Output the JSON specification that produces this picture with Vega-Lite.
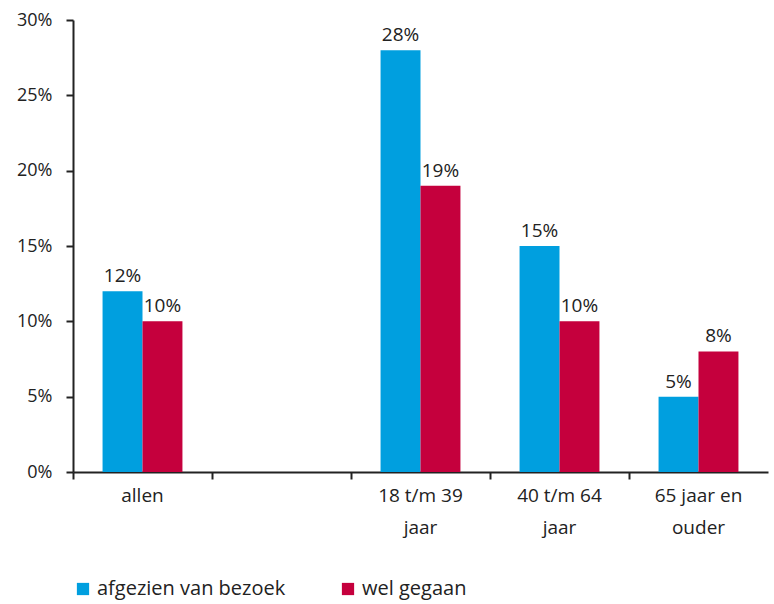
{
  "$schema": "https://vega.github.io/schema/vega-lite/v6.json",
  "width": 695,
  "height": 452,
  "autosize": "none",
  "padding": {"left": 73, "top": 20, "right": 6, "bottom": 132},
  "background": "white",
  "config": {
    "font": "Open Sans",
    "view": {"stroke": null},
    "axis": {"labelFont": "Open Sans", "labelFontSize": 18, "labelColor": "#222222", "domainColor": "#222222", "tickColor": "#222222", "domainWidth": 2, "tickWidth": 2, "grid": false, "title": null}
  },
  "data": {
    "values": [
      {"groep": "allen", "reeks": "afgezien van bezoek", "waarde": 0.12},
      {"groep": "allen", "reeks": "wel gegaan", "waarde": 0.10},
      {"groep": "18 t/m 39|jaar", "reeks": "afgezien van bezoek", "waarde": 0.28},
      {"groep": "18 t/m 39|jaar", "reeks": "wel gegaan", "waarde": 0.19},
      {"groep": "40 t/m 64|jaar", "reeks": "afgezien van bezoek", "waarde": 0.15},
      {"groep": "40 t/m 64|jaar", "reeks": "wel gegaan", "waarde": 0.10},
      {"groep": "65 jaar en|ouder", "reeks": "afgezien van bezoek", "waarde": 0.05},
      {"groep": "65 jaar en|ouder", "reeks": "wel gegaan", "waarde": 0.08}
    ]
  },
  "encoding": {
    "x": {
      "field": "groep", "type": "nominal",
      "scale": {"domain": ["allen", "", "18 t/m 39|jaar", "40 t/m 64|jaar", "65 jaar en|ouder"], "paddingInner": 0, "paddingOuter": 0},
      "axis": {"labelAngle": 0, "labelExpr": "split(datum.label, '|')", "bandPosition": 0, "tickSize": 7, "labelPadding": 7, "labelFontSize": 19, "labelLineHeight": 32, "labelBaseline": "top"}
    },
    "xOffset": {"field": "reeks", "type": "nominal", "scale": {"paddingInner": 0, "paddingOuter": 0.74}},
    "y": {
      "field": "waarde", "type": "quantitative",
      "scale": {"domain": [0, 0.3], "nice": false},
      "axis": {"format": ".0%", "values": [0, 0.05, 0.1, 0.15, 0.2, 0.25, 0.3], "tickSize": 7, "labelPadding": 14}
    }
  },
  "layer": [
    {
      "mark": {"type": "bar"},
      "encoding": {
        "color": {
          "field": "reeks", "type": "nominal",
          "scale": {"domain": ["afgezien van bezoek", "wel gegaan"], "range": ["#009FDF", "#C5003D"]},
          "legend": {"orient": "none", "legendX": 0, "legendY": 559, "direction": "horizontal", "title": null, "symbolType": "square", "symbolSize": 150, "symbolStrokeWidth": 0, "labelFontSize": 20, "labelFont": "Open Sans", "labelColor": "#222222", "labelLimit": 500, "columnPadding": 52, "labelOffset": 4}
        }
      }
    },
    {
      "mark": {"type": "text", "baseline": "bottom", "dy": -5, "fontSize": 19, "color": "#222222"},
      "encoding": {"text": {"field": "waarde", "type": "quantitative", "format": ".0%"}}
    }
  ]
}
